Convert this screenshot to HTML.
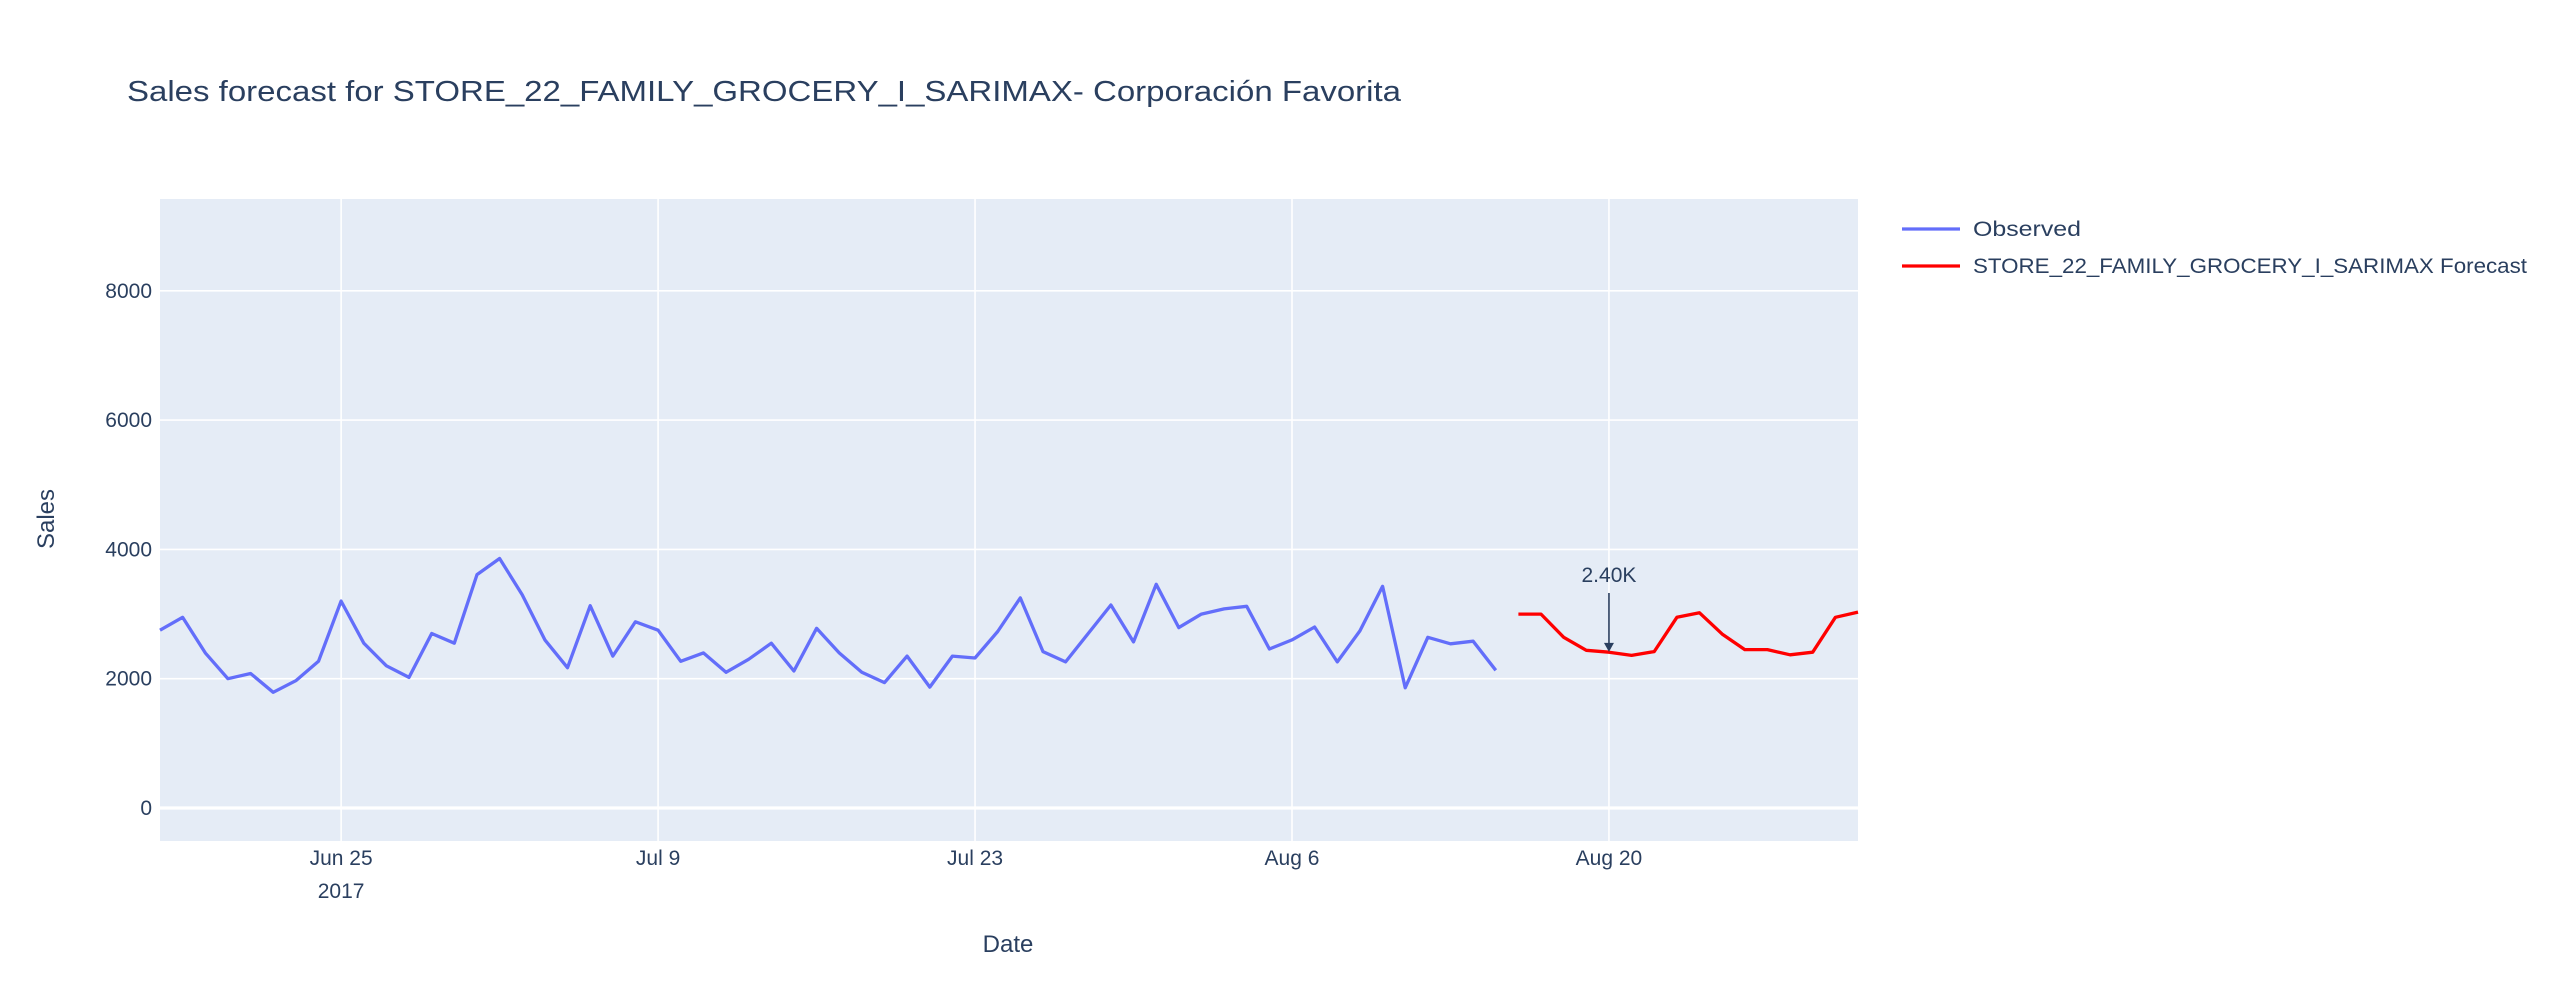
<!DOCTYPE html>
<html><head><meta charset="utf-8"><style>
html,body{margin:0;padding:0;background:#fff;}
svg{display:block;font-family:"Liberation Sans",sans-serif;}
</style></head><body>
<svg id="chart" width="2560" height="1000" viewBox="0 0 2560 1000">
<text x="127" y="101" font-size="29" fill="#2a3f5f" textLength="1274" lengthAdjust="spacingAndGlyphs">Sales forecast for STORE_22_FAMILY_GROCERY_I_SARIMAX- Corporación Favorita</text>
<rect x="160" y="199" width="1698" height="642" fill="#e5ecf6"/>
<g id="grid"></g>
<g id="series"></g>
<g id="ticks"></g>
<text x="1008" y="952" font-size="24" fill="#2a3f5f" text-anchor="middle">Date</text>
<text x="0" y="0" font-size="24" fill="#2a3f5f" text-anchor="middle" transform="translate(54,519) rotate(-90)">Sales</text>
<g>
<g>
<line x1="1902" y1="229" x2="1960" y2="229" stroke="#636efa" stroke-width="3.3"/>
<text x="1973" y="236" font-size="21" fill="#2a3f5f" textLength="108" lengthAdjust="spacingAndGlyphs">Observed</text>
</g>
<g>
<line x1="1902" y1="266" x2="1960" y2="266" stroke="#ff0000" stroke-width="3.3"/>
<text x="1973" y="273" font-size="21" fill="#2a3f5f" textLength="554" lengthAdjust="spacingAndGlyphs">STORE_22_FAMILY_GROCERY_I_SARIMAX Forecast</text>
</g>
</g>
<g id="annot"></g>
</svg>
<script>
const obsStart = "2017-06-17";
const obsValues = [2750,2950,2400,2000,2080,1790,1970,2270,3200,2550,2200,2020,2700,2550,3610,3860,3300,2600,2170,3130,2350,2880,2750,2270,2400,2100,2300,2550,2120,2780,2400,2100,1940,2350,1870,2350,2320,2730,3250,2420,2260,2700,3140,2570,3460,2790,3000,3080,3120,2460,2600,2800,2260,2740,3430,1860,2640,2540,2580,2130];
const fcStart = "2017-08-16";
const fcValues = [3000,3000,2640,2440,2410,2360,2420,2950,3020,2690,2450,2450,2370,2410,2950,3030];
const yTicks = [0,2000,4000,6000,8000];
const xTickDates = ["2017-06-25","2017-07-09","2017-07-23","2017-08-06","2017-08-20"];
const xTickLabels = ["Jun 25","Jul 9","Jul 23","Aug 6","Aug 20"];
const annotDate = "2017-08-20";
const annotValue = 2400;
const annotText = "2.40K";

const NS="http://www.w3.org/2000/svg";
const L=160,R=1858,T=199,B=841;
const yMin=-510,yMax=9420;
const d0=Date.parse("2017-06-17T00:00:00Z"), d1=Date.parse("2017-08-31T00:00:00Z");
function xs(ms){return L+(ms-d0)/(d1-d0)*(R-L);}
function xd(s){return xs(Date.parse(s+"T00:00:00Z"));}
function ys(v){return B-(v-yMin)/(yMax-yMin)*(B-T);}
function mk(tag,attrs,parent){const e=document.createElementNS(NS,tag);for(const k in attrs)e.setAttribute(k,attrs[k]);parent.appendChild(e);return e;}
const grid=document.getElementById('grid'),ticks=document.getElementById('ticks'),series=document.getElementById('series'),annot=document.getElementById('annot');
xTickDates.forEach((d,i)=>{
  const x=xd(d);
  const g=mk('line',{x1:x,x2:x,y1:T,y2:B,stroke:'#fff','stroke-width':1.6},grid);
  
  
  const t=mk('text',{x:x,y:865,'font-size':21,fill:'#2a3f5f','text-anchor':'middle'},ticks);
  t.textContent=xTickLabels[i];
  
  
});
const yr=mk('text',{x:xd(xTickDates[0]),y:898,'font-size':21,fill:'#2a3f5f','text-anchor':'middle'},ticks);
yr.textContent="2017";


yTicks.forEach(v=>{
  const y=ys(v);
  const g=mk('line',{x1:L,x2:R,y1:y,y2:y,stroke:'#fff','stroke-width':v===0?3.3:1.6},grid);
  
  
  const t=mk('text',{x:152,y:y+7,'font-size':21,fill:'#2a3f5f','text-anchor':'end'},ticks);
  t.textContent=String(v);
  
  
});
function path(start,vals,color,name){
  const s=Date.parse(start+"T00:00:00Z");
  const pts=vals.map((v,i)=>xs(s+i*86400000).toFixed(1)+","+ys(v).toFixed(1));
  const p=mk('polyline',{points:pts.join(' '),fill:'none',stroke:color,'stroke-width':3.3,'stroke-linejoin':'round'},series);
  
  
}
path(obsStart,obsValues,'#636efa','observed-line');
path(fcStart,fcValues,'#ff0000','forecast-line');
const ax=xd(annotDate),ay=ys(annotValue);
const al=mk('line',{x1:ax,x2:ax,y1:593,y2:ay-8,stroke:'#2a3f5f','stroke-width':1.6},annot);


const ah=mk('polygon',{points:`${ax-5},${ay-10} ${ax+5},${ay-10} ${ax},${ay-1}`,fill:'#2a3f5f'},annot);


const at=mk('text',{x:ax,y:582,'font-size':21,fill:'#2a3f5f','text-anchor':'middle'},annot);
at.textContent=annotText;


</script>
</body></html>
